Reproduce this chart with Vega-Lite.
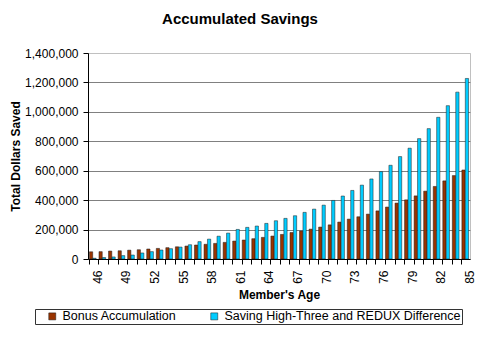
{
  "$schema": "https://vega.github.io/schema/vega-lite/v6.json",
  "width": 382,
  "height": 206,
  "autosize": {"type": "none"},
  "padding": {"left": 88, "top": 53, "right": 10, "bottom": 101},
  "background": "white",
  "config": {
    "font": "Liberation Sans",
    "view": {"stroke": "#c0c0c0", "strokeWidth": 1},
    "axis": {"labelColor": "black", "titleColor": "black", "domainColor": "black", "tickColor": "black"}
  },
  "title": {
    "text": "Accumulated Savings",
    "fontSize": 15,
    "fontWeight": "bold",
    "color": "black",
    "anchor": "middle",
    "dx": -39,
    "offset": 20
  },
  "data": {
    "values": [
      {"age": 46, "series": "Bonus Accumulation", "value": 49000},
      {"age": 47, "series": "Bonus Accumulation", "value": 50000},
      {"age": 48, "series": "Bonus Accumulation", "value": 54000},
      {"age": 49, "series": "Bonus Accumulation", "value": 56000},
      {"age": 50, "series": "Bonus Accumulation", "value": 60000},
      {"age": 51, "series": "Bonus Accumulation", "value": 63000},
      {"age": 52, "series": "Bonus Accumulation", "value": 68000},
      {"age": 53, "series": "Bonus Accumulation", "value": 72000},
      {"age": 54, "series": "Bonus Accumulation", "value": 77000},
      {"age": 55, "series": "Bonus Accumulation", "value": 83000},
      {"age": 56, "series": "Bonus Accumulation", "value": 88000},
      {"age": 57, "series": "Bonus Accumulation", "value": 95000},
      {"age": 58, "series": "Bonus Accumulation", "value": 100000},
      {"age": 59, "series": "Bonus Accumulation", "value": 106000},
      {"age": 60, "series": "Bonus Accumulation", "value": 113000},
      {"age": 61, "series": "Bonus Accumulation", "value": 122000},
      {"age": 62, "series": "Bonus Accumulation", "value": 129000},
      {"age": 63, "series": "Bonus Accumulation", "value": 138000},
      {"age": 64, "series": "Bonus Accumulation", "value": 147000},
      {"age": 65, "series": "Bonus Accumulation", "value": 156000},
      {"age": 66, "series": "Bonus Accumulation", "value": 167000},
      {"age": 67, "series": "Bonus Accumulation", "value": 180000},
      {"age": 68, "series": "Bonus Accumulation", "value": 190000},
      {"age": 69, "series": "Bonus Accumulation", "value": 203000},
      {"age": 70, "series": "Bonus Accumulation", "value": 217000},
      {"age": 71, "series": "Bonus Accumulation", "value": 232000},
      {"age": 72, "series": "Bonus Accumulation", "value": 251000},
      {"age": 73, "series": "Bonus Accumulation", "value": 271000},
      {"age": 74, "series": "Bonus Accumulation", "value": 287000},
      {"age": 75, "series": "Bonus Accumulation", "value": 305000},
      {"age": 76, "series": "Bonus Accumulation", "value": 327000},
      {"age": 77, "series": "Bonus Accumulation", "value": 353000},
      {"age": 78, "series": "Bonus Accumulation", "value": 380000},
      {"age": 79, "series": "Bonus Accumulation", "value": 402000},
      {"age": 80, "series": "Bonus Accumulation", "value": 429000},
      {"age": 81, "series": "Bonus Accumulation", "value": 461000},
      {"age": 82, "series": "Bonus Accumulation", "value": 493000},
      {"age": 83, "series": "Bonus Accumulation", "value": 531000},
      {"age": 84, "series": "Bonus Accumulation", "value": 567000},
      {"age": 85, "series": "Bonus Accumulation", "value": 605000},
      {"age": 46, "series": "Saving High-Three and REDUX Difference", "value": 5000},
      {"age": 47, "series": "Saving High-Three and REDUX Difference", "value": 10000},
      {"age": 48, "series": "Saving High-Three and REDUX Difference", "value": 14000},
      {"age": 49, "series": "Saving High-Three and REDUX Difference", "value": 23000},
      {"age": 50, "series": "Saving High-Three and REDUX Difference", "value": 27000},
      {"age": 51, "series": "Saving High-Three and REDUX Difference", "value": 41000},
      {"age": 52, "series": "Saving High-Three and REDUX Difference", "value": 50000},
      {"age": 53, "series": "Saving High-Three and REDUX Difference", "value": 61000},
      {"age": 54, "series": "Saving High-Three and REDUX Difference", "value": 70000},
      {"age": 55, "series": "Saving High-Three and REDUX Difference", "value": 81000},
      {"age": 56, "series": "Saving High-Three and REDUX Difference", "value": 97000},
      {"age": 57, "series": "Saving High-Three and REDUX Difference", "value": 118000},
      {"age": 58, "series": "Saving High-Three and REDUX Difference", "value": 135000},
      {"age": 59, "series": "Saving High-Three and REDUX Difference", "value": 155000},
      {"age": 60, "series": "Saving High-Three and REDUX Difference", "value": 176000},
      {"age": 61, "series": "Saving High-Three and REDUX Difference", "value": 201000},
      {"age": 62, "series": "Saving High-Three and REDUX Difference", "value": 215000},
      {"age": 63, "series": "Saving High-Three and REDUX Difference", "value": 224000},
      {"age": 64, "series": "Saving High-Three and REDUX Difference", "value": 242000},
      {"age": 65, "series": "Saving High-Three and REDUX Difference", "value": 260000},
      {"age": 66, "series": "Saving High-Three and REDUX Difference", "value": 276000},
      {"age": 67, "series": "Saving High-Three and REDUX Difference", "value": 294000},
      {"age": 68, "series": "Saving High-Three and REDUX Difference", "value": 317000},
      {"age": 69, "series": "Saving High-Three and REDUX Difference", "value": 339000},
      {"age": 70, "series": "Saving High-Three and REDUX Difference", "value": 366000},
      {"age": 71, "series": "Saving High-Three and REDUX Difference", "value": 398000},
      {"age": 72, "series": "Saving High-Three and REDUX Difference", "value": 428000},
      {"age": 73, "series": "Saving High-Three and REDUX Difference", "value": 466000},
      {"age": 74, "series": "Saving High-Three and REDUX Difference", "value": 502000},
      {"age": 75, "series": "Saving High-Three and REDUX Difference", "value": 544000},
      {"age": 76, "series": "Saving High-Three and REDUX Difference", "value": 594000},
      {"age": 77, "series": "Saving High-Three and REDUX Difference", "value": 637000},
      {"age": 78, "series": "Saving High-Three and REDUX Difference", "value": 696000},
      {"age": 79, "series": "Saving High-Three and REDUX Difference", "value": 753000},
      {"age": 80, "series": "Saving High-Three and REDUX Difference", "value": 818000},
      {"age": 81, "series": "Saving High-Three and REDUX Difference", "value": 886000},
      {"age": 82, "series": "Saving High-Three and REDUX Difference", "value": 963000},
      {"age": 83, "series": "Saving High-Three and REDUX Difference", "value": 1042000},
      {"age": 84, "series": "Saving High-Three and REDUX Difference", "value": 1134000},
      {"age": 85, "series": "Saving High-Three and REDUX Difference", "value": 1227000}
    ]
  },
  "mark": {"type": "bar", "stroke": "#1a1a1a", "strokeWidth": 0.5},
  "encoding": {
    "x": {
      "field": "age",
      "type": "ordinal",
      "scale": {"paddingInner": 0.3, "paddingOuter": 0.15},
      "axis": {
        "title": "Member's Age",
        "titleFontSize": 12,
        "titleFontWeight": "bold",
        "titlePadding": 6,
        "labelAngle": -90,
        "labelFontSize": 12,
        "labelPadding": 6,
        "labelExpr": "(datum.value - 46) % 3 == 0 ? datum.label : ''",
        "labelOverlap": false,
        "bandPosition": 0,
        "labelOffset": 4.8,
        "tickSize": 5
      }
    },
    "xOffset": {"field": "series", "type": "nominal", "scale": {"paddingInner": 0.05}},
    "y": {
      "field": "value",
      "type": "quantitative",
      "scale": {"domain": [0, 1400000], "nice": false},
      "axis": {
        "title": "Total Dollars Saved",
        "titleFontSize": 12,
        "titleFontWeight": "bold",
        "titlePadding": 2,
        "values": [0, 200000, 400000, 600000, 800000, 1000000, 1200000, 1400000],
        "format": ",.0f",
        "labelFontSize": 12,
        "labelPadding": 5,
        "tickSize": 5,
        "grid": true,
        "gridColor": {"condition": {"test": "datum.value == 1400000", "value": "#c0c0c0"}, "value": "#808080"},
        "gridWidth": 1
      }
    },
    "color": {
      "field": "series",
      "type": "nominal",
      "scale": {
        "domain": ["Bonus Accumulation", "Saving High-Three and REDUX Difference"],
        "range": ["#993300", "#00ccff"]
      },
      "legend": {
        "orient": "none",
        "legendX": -53,
        "legendY": 256,
        "direction": "horizontal",
        "title": " ",
        "titleOrient": "left",
        "titleFontSize": 12,
        "titlePadding": 10,
        "padding": 1,
        "strokeColor": "#333333",
        "symbolType": "square",
        "symbolSize": 49,
        "symbolStrokeColor": "#1a1a1a",
        "symbolStrokeWidth": 0.5,
        "symbolOpacity": 1,
        "labelFontSize": 12.5,
        "labelColor": "black",
        "labelOffset": 4,
        "labelLimit": 400,
        "columnPadding": 31
      }
    }
  }
}
